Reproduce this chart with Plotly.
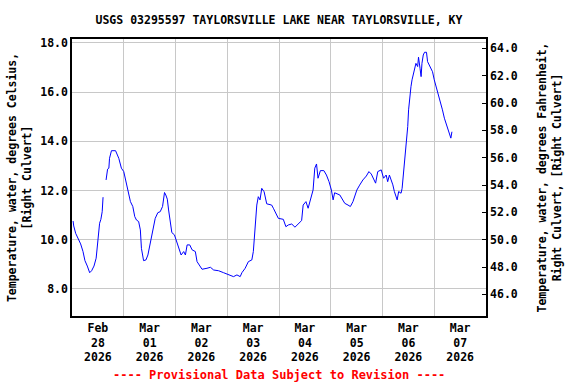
import pandas as pd
import plotly.graph_objects as go

start = "2026-02-28 00:00"
hours = [0.5, 0.8, 1.7, 2.9, 4.0, 5.1, 6.0, 7.1, 8.2, 9.1, 10.2, 11.2, 12.1, 12.8, 13.4, 14.0, 14.4,
         15.1,
         15.8, 16.5, 17.1, 17.4, 18.3, 20.2, 21.7, 22.9, 24.0, 25.1, 26.0, 27.1, 28.2, 29.1, 29.9,
         30.9, 31.7, 32.2, 33.2, 34.3, 35.2, 36.3, 37.4, 38.6, 39.8, 40.9, 42.0, 42.9, 43.5, 44.2,
         44.8, 45.6, 46.3, 47.5, 48.6, 49.5, 50.6, 51.8, 52.6, 53.4, 54.6, 55.7, 57.2, 58.0, 59.2,
         60.3, 62.6, 64.2, 65.7, 68.0, 70.3, 71.9, 73.4, 74.9, 76.5, 78.0, 78.8, 80.3, 81.8, 83.4,
         84.1, 84.9, 85.7, 86.4, 87.2, 88.0, 89.1, 90.3, 92.6, 93.4, 94.6, 95.7, 98.0, 99.2, 100.3,
         101.9, 103.4, 104.9, 106.5, 107.2, 108.5, 109.5, 110.6, 111.8, 112.6, 113.4, 114.1, 115.2,
         116.8, 118.0, 119.2, 120.3, 121.1, 121.8, 124.2, 125.4, 126.5, 128.0, 129.1, 130.3, 131.1,
         132.1, 133.4, 134.9, 136.5, 137.7, 138.8, 139.8, 140.8, 141.8, 143.4, 144.5, 145.7, 146.4,
         147.2, 148.0, 148.8, 149.5, 150.3, 150.8, 151.5, 152.6, 153.1, 153.7, 154.2, 154.6, 155.2,
         155.7, 156.1, 156.8, 157.2, 157.7, 158.3, 158.9, 159.5, 160.3, 160.7, 161.4, 161.9, 162.3,
         162.9, 163.5, 164.4, 164.9, 165.7, 166.5, 167.2, 168.0, 169.1, 170.0, 171.1, 171.8, 172.7,
         173.7, 174.6, 175.2, 175.7, 176.2]
temp_c = [10.76, 10.56, 10.26, 10.02, 9.83, 9.52, 9.15, 8.93, 8.66, 8.74, 8.93, 9.25, 9.99, 10.67, 10.83, 11.14, 11.73,
          None,
          12.43, 12.87, 12.91, 13.31, 13.62, 13.62, 13.31, 12.91, 12.77, 12.30, 11.89, 11.55, 11.35, 10.94, 10.80,
          10.74, 10.40, 9.65, 9.15, 9.18, 9.38, 9.86, 10.20, 10.87, 11.10, 11.14, 11.35, 11.92, 11.82, 11.65,
          11.21, 10.80, 10.29, 10.20, 9.92, 9.65, 9.38, 9.52, 9.38, 9.79, 9.79, 9.59, 9.52, 9.11, 8.93,
          8.80, 8.84, 8.88, 8.77, 8.74, 8.66, 8.61, 8.57, 8.50, 8.57, 8.50, 8.66, 8.84, 9.11, 9.18,
          9.52, 10.53, 11.41, 11.75, 11.62, 12.09, 11.95, 11.46, 11.41, 11.28, 11.08, 10.87, 10.83, 10.53, 10.60,
          10.64, 10.51, 10.64, 10.78, 11.41, 11.55, 11.28, 11.62, 12.02, 12.91, 13.08, 12.50, 12.81,
          12.81, 12.63, 12.36, 12.02, 11.62, 11.91, 11.82, 11.62, 11.48, 11.41, 11.35, 11.55, 11.75,
          12.02, 12.22, 12.43, 12.59, 12.77, 12.67, 12.46, 12.30, 12.77, 12.84, 12.50, 12.63, 12.36,
          12.63, 12.43, 12.23, 11.96, 11.75, 11.62, 11.96, 11.89, 12.09, 12.70, 12.97, 13.72, 14.13,
          14.60, 15.28, 16.02, 16.22, 16.50, 16.77, 16.90, 17.17, 17.04, 17.42, 16.97, 16.63, 17.17,
          17.51, 17.62, 17.62, 17.24, 17.10, 16.97, 16.83, 16.50, 16.16, 15.89, 15.55, 15.28, 14.94,
          14.67, 14.35, 14.17, 14.13, 14.39]

title_text = "USGS 03295597 TAYLORSVILLE LAKE NEAR TAYLORSVILLE, KY"
y1_title = "Temperature, water, degrees Celsius,<br>[Right Culvert]"
y2_title = "Temperature, water, degrees Fahrenheit,<br>Right Culvert, [Right Culvert]"
note_text = "---- Provisional Data Subject to Revision ----"
c_range = [6.9, 18.16]

times = pd.Timestamp(start) + pd.to_timedelta(hours, unit="h")
temp_f = [None if v is None else v * 1.8 + 32 for v in temp_c]
f_range = [v * 1.8 + 32 for v in c_range]

FONT = "DejaVu Sans Mono"
fs = 11.5
tfont = dict(family=FONT, size=fs, color="black", weight="bold")

fig = go.Figure()
fig.add_trace(go.Scatter(x=times, y=temp_c, mode="lines",
                         line=dict(color="#0000ff", width=1), connectgaps=False,
                         showlegend=False))
fig.add_trace(go.Scatter(x=times, y=temp_f, mode="lines", yaxis="y2",
                         line=dict(color="rgba(0,0,0,0)", width=0), hoverinfo="skip",
                         showlegend=False))

fig.update_layout(
    width=576, height=384,
    margin=dict(l=72, r=90, t=39, b=68, autoexpand=False),
    paper_bgcolor="white", plot_bgcolor="white",
    font=tfont,
    title=dict(text=title_text, x=0.5, xref="paper", y=1 - 20 / 384, yref="container",
               yanchor="middle", xanchor="center", automargin=False, font=tfont),
    xaxis=dict(type="date", range=["2026-02-28 00:00", "2026-03-08 00:00"],
               dtick=86400000, tick0="2026-02-28", ticklabelmode="period",
               tickformat="%b<br>%d<br>%Y", showgrid=True, gridcolor="#c8c8c8", gridwidth=1.2,
               showline=True, linecolor="black", linewidth=1.5, mirror=True,
               ticks="", zeroline=False, automargin=False),
    yaxis=dict(range=c_range, tickvals=[8, 10, 12, 14, 16, 18], tickformat=".1f",
               showgrid=True, gridcolor="#c8c8c8", gridwidth=1.2,
               showline=True, linecolor="black", linewidth=1.5, mirror=True,
               ticks="", zeroline=False, automargin=False,
               title=dict(text=y1_title, standoff=6, font=tfont)),
    yaxis2=dict(range=f_range, overlaying="y", side="right", tick0=46, dtick=2,
                tickformat=".1f", showgrid=False, zeroline=False,
                showline=True, linecolor="black", linewidth=1.5,
                ticks="inside", ticklen=4, tickcolor="black", automargin=False,
                title=dict(text=y2_title, standoff=21, font=tfont)),
    annotations=[dict(text=note_text, x=0.5, xref="paper", y=-59 / 277, yref="paper",
                      xanchor="center", yanchor="middle", showarrow=False,
                      font=dict(family=FONT, size=fs + 0.5, color="#ff0000", weight="bold"))],
)

fig.write_html("out.html", config={"displayModeBar": False},
               post_script="document.body.style.margin='0';")
